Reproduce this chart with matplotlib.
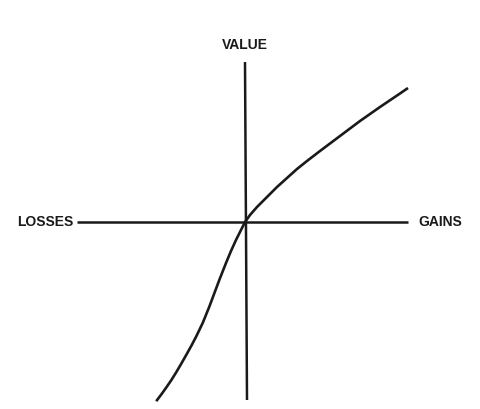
import matplotlib
matplotlib.use("Agg")
import matplotlib.pyplot as plt

# value function points (offsets from the reference point)
gains_x = [0, 5, 12, 22, 32, 42, 52, 62, 75, 85, 95, 115, 135, 155, 163]
gains_y = [0, 7, 15, 25, 35, 44, 53, 61, 71, 78.5, 86, 101, 115, 128.5, 134]
loss_x = [0, -4, -9, -14, -19, -25.5, -30.5, -35.5, -42.2, -48.8, -53.5, -58.8,
          -63.8, -68.8, -73.8, -78.8, -83.8, -88.8]
loss_y = [0, -8, -18, -29, -41, -57.5, -70.8, -84.2, -100.8, -114.5, -123.5, -133,
          -141.8, -150.3, -158.3, -165.6, -172.6, -179.2]

# axis extents
h_axis_x = [-168, 163]
v_axis_y = [160, -178]
v_axis_x = [0, 2]

axis_labels = ["VALUE", "LOSSES", "GAINS"]

fig = plt.figure(figsize=(4.81, 4.09), dpi=100)
ax = fig.add_axes([0, 0, 1, 1])
ax.set_xlim(-245, 236)
ax.set_ylim(-187, 222)
ax.axis("off")

lc = "#1a1a1a"
ax.plot(h_axis_x, [0, 0], color=lc, lw=1.8, solid_capstyle="butt")
ax.plot(v_axis_x, v_axis_y, color=lc, lw=1.8, solid_capstyle="butt")
ax.plot(loss_x[::-1] + gains_x[1:], loss_y[::-1] + gains_y[1:], color=lc, lw=1.9,
        solid_capstyle="butt", solid_joinstyle="round")

font = dict(family="Liberation Sans", fontsize=10, fontweight="bold", color=lc)
ax.text(0, 177, axis_labels[0], ha="center", va="center", **font)
ax.text(-172, 0, axis_labels[1], ha="right", va="center", **font)
ax.text(173, 0, axis_labels[2], ha="left", va="center", **font)

fig.savefig("out.png", dpi=100, facecolor="white")
